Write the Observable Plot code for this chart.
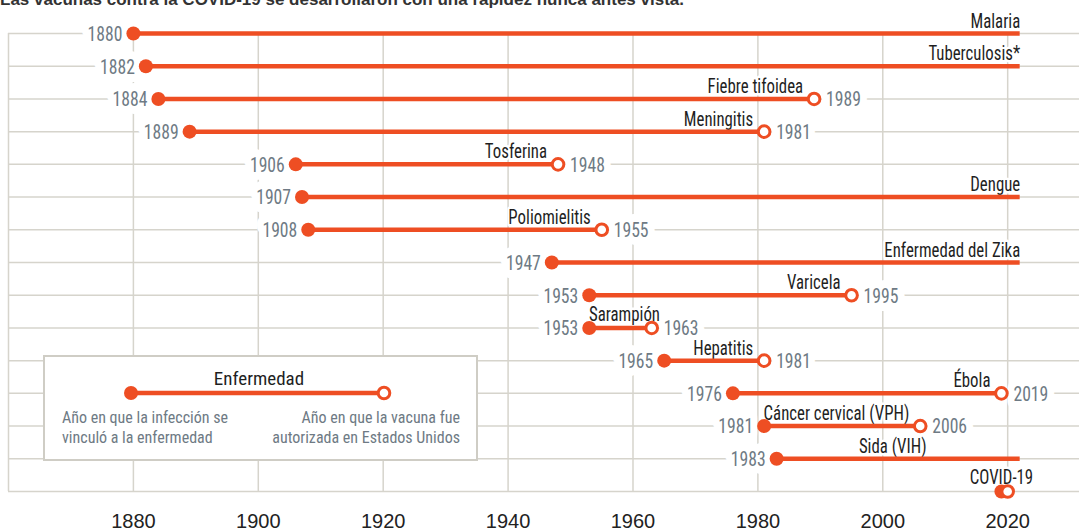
<!DOCTYPE html>
<html>
<head>
<meta charset="utf-8">
<script src="https://cdn.jsdelivr.net/npm/d3@7"></script>
<script src="https://cdn.jsdelivr.net/npm/@observablehq/plot@0.6"></script>
<style>
  html, body { margin: 0; padding: 0; background: #fff; }
  #wrap { position: relative; width: 1082px; height: 531px; overflow: hidden; }
  #title { position: absolute; left: 0; top: -9px; font: bold 17px "Liberation Sans", Arial, sans-serif; line-height: 17px; color: #333; white-space: nowrap; }
  #legend { position: absolute; left: 43px; top: 355px; }
</style>
</head>
<body>
<div id="wrap">
  <div id="chart"></div>
  <div id="title">Las vacunas contra la COVID-19 se desarrollaron con una rapidez nunca antes vista.</div>
  <div id="legend"></div>
</div>
<script>
// ---- data ----
const diseases = ["Malaria", "Tuberculosis*", "Fiebre tifoidea", "Meningitis", "Tosferina", "Dengue", "Poliomielitis", "Enfermedad del Zika", "Varicela", "Sarampión", "Hepatitis", "Ébola", "Cáncer cervical (VPH)", "Sida (VIH)", "COVID-19"];
const linkedYear = [1880, 1882, 1884, 1889, 1906, 1907, 1908, 1947, 1953, 1953, 1965, 1976, 1981, 1983, 2019];
const vaccineYear = [null, null, 1989, 1981, 1948, null, 1955, null, 1995, 1963, 1981, 2019, 2006, null, 2020];
const presentYear = 2022;
const xTicks = [1880, 1900, 1920, 1940, 1960, 1980, 2000, 2020];
const legendTitle = "Enfermedad";
const legendLeft = ["Año en que la infección se", "vinculó a la enfermedad"];
const legendRight = ["Año en que la vacuna fue", "autorizada en Estados Unidos"];

// ---- styles ----
const ORANGE = "#ee4e23";
const GRID = "#d6d4cc";
const GRAYTXT = "#6e7a84";
const INK = "#1f1f1f";
const REG = '"Liberation Sans", Arial, sans-serif';

// find an installed condensed face; otherwise squeeze a regular one harder
function installed(font) {
  const c = document.createElement("canvas").getContext("2d");
  const s = "mmmmmmmmmmlli1880 Enfermedad WWW";
  for (const base of ["monospace", "serif"]) {
    c.font = `40px ${base}`;
    const a = c.measureText(s).width;
    c.font = `40px "${font}", ${base}`;
    if (c.measureText(s).width !== a) return true;
  }
  return false;
}
const condCandidates = ["Roboto Condensed", "Liberation Sans Narrow", "DejaVu Sans Condensed", "Open Sans Condensed", "Noto Sans Condensed", "Arial Narrow"];
const condFound = condCandidates.find(installed);
const COND = condFound ? `"${condFound}"` : '"Liberation Sans", Arial, sans-serif';
const BASE_SQ = condFound ? 1 : 0.84;

const rows = diseases.map((name, i) => ({
  name, i, start: linkedYear[i], end: vaccineYear[i], stop: vaccineYear[i] ?? presentYear
}));
const isCovid = d => d.name === "COVID-19";
const centeredNames = new Set(["Sarampión"]);
const yearRows = rows.filter(d => !isCovid(d));
const vacRows = rows.filter(d => d.end != null && !isCovid(d));
const vacEndNames = vacRows.filter(d => !centeredNames.has(d.name));
const vacMidNames = vacRows.filter(d => centeredNames.has(d.name));
const openRows = rows.filter(d => d.end == null);
const covidRows = rows.filter(isCovid);
const labelOverride = {"Sida (VIH)": 2007};

const nameOpts = {y: "i", text: "name", lineAnchor: "bottom", dy: -6, fontSize: 20, fill: INK, stroke: "white", strokeWidth: 5, className: "sqname"};
const yearOpts = {y: "i", dy: 1, fontSize: 20, fill: GRAYTXT, stroke: "white", strokeWidth: 16, className: "sqyear"};

const chart = Plot.plot({
  width: 1082,
  height: 531,
  marginLeft: 8,
  marginRight: 3,
  marginTop: 33,
  marginBottom: 40,
  x: {domain: [1860, 2031.5]},
  y: {domain: [0, diseases.length - 1], reverse: true, axis: null},
  style: {background: "white", fontFamily: COND},
  marks: [
    Plot.ruleY(d3.range(diseases.length), {stroke: GRID, strokeWidth: 1.5}),
    Plot.ruleX([1860, ...xTicks], {y1: 0, y2: diseases.length - 1, stroke: GRID, strokeWidth: 1.5}),
    Plot.axisX(xTicks, {tickSize: 0, tickPadding: 22, fontSize: 20, fontFamily: REG, fill: "#222", tickFormat: d => String(d), label: null}),
    // start-year labels
    Plot.text(yearRows, {...yearOpts, x: "start", text: d => String(d.start), textAnchor: "end", dx: -11}),
    // vaccine-year labels
    Plot.text(vacRows, {...yearOpts, x: "end", text: d => String(d.end), textAnchor: "start", dx: 12}),
    // disease names
    Plot.text(vacEndNames, {...nameOpts, x: "end", textAnchor: "end", dx: -11}),
    Plot.text(vacMidNames, {...nameOpts, x: d => (d.start + d.end) / 2, textAnchor: "middle", dx: 4, dy: -7}),
    Plot.text(openRows, {...nameOpts, x: d => labelOverride[d.name] ?? d.stop, textAnchor: "end"}),
    Plot.text(covidRows, {...nameOpts, x: "start", textAnchor: "middle", dy: -8}),
    // lines and dots
    Plot.ruleY(rows, {y: "i", x1: "start", x2: "stop", stroke: ORANGE, strokeWidth: 4.5}),
    Plot.dot(rows, {x: "start", y: "i", r: 7, fill: ORANGE}),
    Plot.dot(rows.filter(d => d.end != null), {x: "end", y: "i", r: 5.8, fill: "white", stroke: ORANGE, strokeWidth: 3})
  ]
});
document.getElementById("chart").appendChild(chart);

function squeeze(root, factor) {
  const f = factor * BASE_SQ;
  if (f === 1) return;
  root.querySelectorAll("text").forEach(t => {
    const w = t.getComputedTextLength();
    if (w > 0) {
      t.setAttribute("textLength", (w * f).toFixed(1));
      t.setAttribute("lengthAdjust", "spacingAndGlyphs");
    }
  });
}
chart.querySelectorAll("g.sqname").forEach(g => squeeze(g, 0.84));
chart.querySelectorAll("g.sqyear").forEach(g => squeeze(g, 0.88));

// ---- legend ----
const W = 435, H = 106;
const legFs = condFound ? 16 : 14;
const svg = d3.select("#legend").append("svg").attr("width", W).attr("height", H)
  .style("font-family", COND);
svg.append("rect").attr("x", 1).attr("y", 1).attr("width", W - 2).attr("height", H - 2)
  .attr("fill", "white").attr("stroke", "#cfcdc5").attr("stroke-width", 2);
svg.append("text").attr("x", 216).attr("y", 30).attr("text-anchor", "middle")
  .attr("font-size", legFs + 3).attr("fill", INK).text(legendTitle);
svg.append("line").attr("x1", 88).attr("x2", 341).attr("y1", 38).attr("y2", 38)
  .attr("stroke", ORANGE).attr("stroke-width", 4.5);
svg.append("circle").attr("cx", 88).attr("cy", 38).attr("r", 7).attr("fill", ORANGE);
svg.append("circle").attr("cx", 341).attr("cy", 38).attr("r", 5.8).attr("fill", "white")
  .attr("stroke", ORANGE).attr("stroke-width", 3);
legendLeft.forEach((s, k) => svg.append("text").attr("x", 19).attr("y", 68 + k * 20)
  .attr("font-size", legFs).attr("fill", GRAYTXT).text(s));
legendRight.forEach((s, k) => svg.append("text").attr("x", 417).attr("y", 68 + k * 20)
  .attr("text-anchor", "end").attr("font-size", legFs).attr("fill", GRAYTXT).text(s));
</script>
</body>
</html>
